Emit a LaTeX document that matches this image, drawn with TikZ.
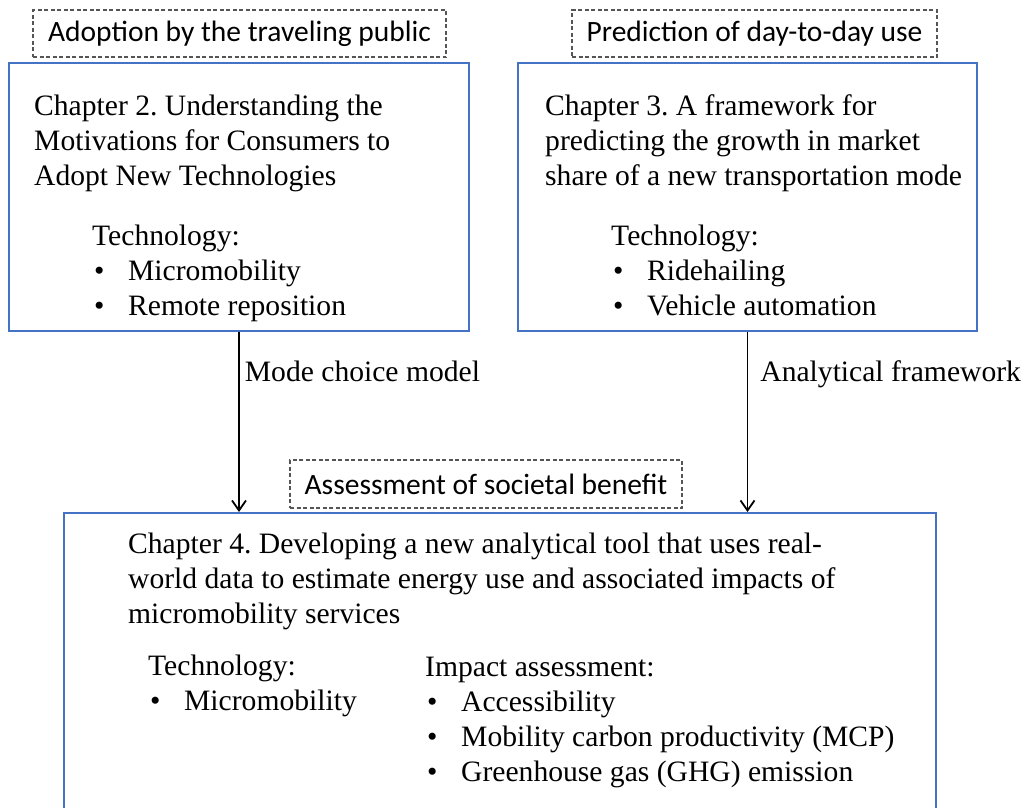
\documentclass[tikz,border=0pt]{standalone}
\usepackage{fontspec}
\setmainfont{Liberation Serif}
\newfontfamily\calibri{Carlito}
\usetikzlibrary{arrows.meta}
\definecolor{boxblue}{RGB}{68,114,196}
\definecolor{dashgray}{RGB}{85,85,85}
\newcommand{\bul}{\makebox[36pt][l]{\hspace{2pt}\textbullet}}
\frenchspacing

\tikzset{
  chapterbox/.style={draw=boxblue, line width=2pt, inner sep=0pt},
  themebox/.style={draw=dashgray, line width=1.1pt, dash pattern=on 4pt off 2.5pt,
    inner sep=0pt, font=\calibri\fontsize{29.5}{35}\selectfont},
  % anchored at the baseline of the last line
  txt/.style={anchor=base west, inner sep=0pt, align=left},
  flow/.style={line width=1.8pt, -{Straight Barb[length=10pt, width=14pt, line width=1.8pt]}},
  flowlabel/.style={anchor=base west, inner ysep=0pt, pos=0.275}
}

\begin{document}
\begin{tikzpicture}[x=1pt, y=-1pt, font=\fontsize{29.6}{35}\selectfont]
\useasboundingbox (0,0) rectangle (1024,807);
\clip (0,0) rectangle (1024,807);

% dashed theme labels
\node[themebox, minimum width=413pt, minimum height=47pt] (adopt) at (239.5,33.5) {Adoption by the traveling public};
\node[themebox, minimum width=365pt, minimum height=47pt] (predict) at (754.5,33.5) {Prediction of day-to-day use};
\node[themebox, minimum width=392pt, minimum height=48pt] (assess) at (486,484) {Assessment of societal benefit};

% chapter boxes
\node[chapterbox, minimum width=460pt, minimum height=268pt] (ch2) at (239,197) {};
\node[chapterbox, minimum width=459pt, minimum height=268pt] (ch3) at (747.5,197) {};
\node[chapterbox, minimum width=872pt, minimum height=327pt] (ch4) at (500,676.5) {};

% chapter 2
\node[txt] (ch2title) at (34,185) {Chapter 2. Understanding the\\Motivations for Consumers to\\Adopt New Technologies};
\node[txt] (ch2tech) at (92,315) {Technology:\\\bul Micromobility\\\bul Remote reposition};

% chapter 3
\node[txt] (ch3title) at (545,185) {Chapter 3. A framework for\\predicting the growth in market\\share of a new transportation mode};
\node[txt] (ch3tech) at (611,315) {Technology:\\\bul Ridehailing\\\bul Vehicle automation};

% chapter 4
\node[txt] (ch4title) at (128,623) {Chapter 4. Developing a new analytical tool that uses real-\\world data to estimate energy use and associated impacts of\\micromobility services};
\node[txt] (ch4tech) at (148,710) {Technology:\\\bul Micromobility};
\node[txt] (ch4impact) at (425,781) {Impact assessment:\\\bul Accessibility\\\bul Mobility carbon productivity (MCP)\\\bul Greenhouse gas (GHG) emission};

% connectors
\draw[flow] (ch2.south) -- node[flowlabel, inner xsep=5pt] (modelabel) {Mode choice model} (ch2.south |- ch4.north);
\draw[flow] (ch3.south) -- node[flowlabel, inner xsep=12pt] (anlabel) {Analytical framework} (ch3.south |- ch4.north);
\end{tikzpicture}
\end{document}
